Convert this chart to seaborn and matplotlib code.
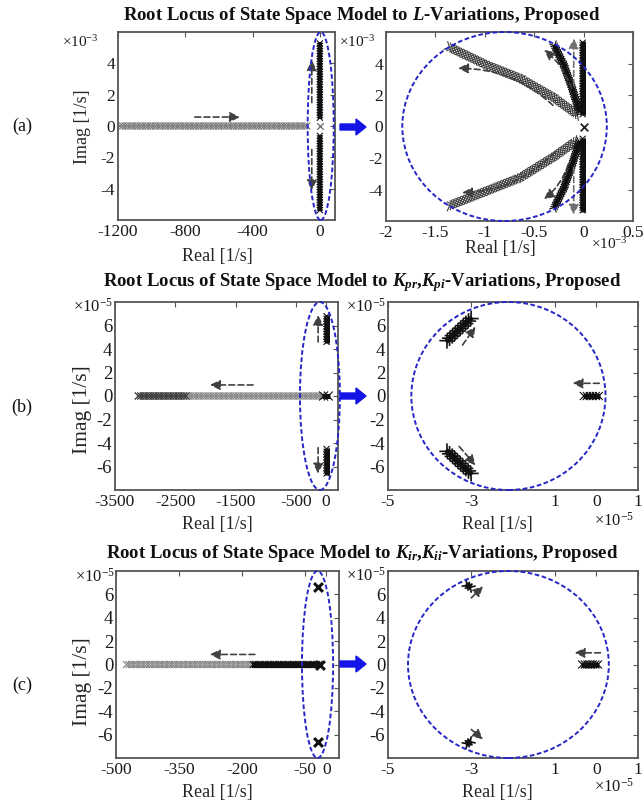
import numpy as np
import pandas as pd
import matplotlib
matplotlib.use("Agg")
import matplotlib.pyplot as plt
import matplotlib.patheffects as pe
from matplotlib.patches import Ellipse, FancyArrow
import seaborn as sns

# ---------------- data ----------------
# (a) left : Real [1/s], Imag [x1e-3 1/s]
a1_band_re = [-1195, -70]
a1_band_im = [0, 0]
a1_bar_re = [0, 0]
a1_bar_up_im = [0.45, 5.35]
a1_bar_dn_im = [-0.55, -5.45]
a1_pole_re = [0]
a1_pole_im = [0]
a1_arrow_start = [(-743, 0.57), (-48, 1.5), (-48, -1.5)]
a1_arrow_end = [(-475, 0.57), (-48, 4.2), (-48, -4.1)]
a1_ellipse = (5, 0, 155, 12)
a1_xticks = [-1200, -800, -400, 0]
a1_xticklabels = ["-1200", "-800", "-400", "0"]
a_yticks = [-4, -2, 0, 2, 4]

# (a) right : Real [x1e-3 1/s], Imag [x1e-3 1/s]
a2_brA_up_re = [-0.05, -0.31, -0.64, -0.98, -1.37]
a2_brA_up_im = [0.70, 1.87, 3.05, 3.90, 5.07]
a2_brA_dn_re = [-0.07, -0.31, -0.64, -0.98, -1.37]
a2_brA_dn_im = [-0.90, -1.96, -3.24, -4.09, -5.05]
a2_brB_re = [-0.04, -0.12, -0.20, -0.30]
a2_brB_up_im = [0.9, 2.5, 3.9, 5.2]
a2_brB_dn_im = [-0.9, -2.5, -3.9, -5.2]
a2_bar_re = [-0.01, -0.01]
a2_bar_up_im = [0.7, 5.4]
a2_bar_dn_im = [-0.7, -5.4]
a2_pole_re = [0]
a2_pole_im = [0]
a2_arrow_start = [(-0.31, 1.34), (-0.29, -1.64), (-0.12, 2.41), (-0.155, -2.39), (-0.10, 2.6), (-0.10, -2.6)]
a2_arrow_end = [(-1.27, 3.69), (-1.23, -4.2), (-0.40, 4.86), (-0.40, -4.62), (-0.10, 5.6), (-0.10, -5.6)]
a2_arrow_rad = [0.2, -0.2, 0.15, -0.15, 0.0, 0.0]
a2_ellipse = (-0.8, 0, 2.07, 12)
a2_xticks = [-2, -1.5, -1, -0.5, 0, 0.5]
a2_xticklabels = ["-2", "-1.5", "-1", "-0.5", "0", "0.5"]

# (b) left : Real [1/s], Imag [x1e-5 1/s]
b1_band_re = [-3134, -60]
b1_dark_re = [-3134, -2300]
b1_band_im = [0, 0]
b1_blob_re = [-60, 60]
b1_bar_re = [10, 10]
b1_bar_up_im = [4.5, 6.9]
b1_bar_dn_im = [-4.4, -6.7]
b1_arrow_start = [(-1210, 0.94), (-130, 4.6), (-130, -4.4)]
b1_arrow_end = [(-1924, 0.94), (-130, 6.9), (-130, -6.6)]
b1_ellipse = (-100, 0, 663, 16)
b1_xticks = [-3500, -2500, -1500, -500, 0]
b1_xticklabels = ["-3500", "-2500", "-1500", "-500", "0"]
bc_yticks = [-6, -4, -2, 0, 2, 4, 6]

# (b) right : Real [x1e-5 1/s], Imag [x1e-5 1/s]
b2_up_re = [-3.61, -2.98]
b2_up_im = [4.6, 6.7]
b2_dn_re = [-3.61, -2.98]
b2_dn_im = [-4.6, -6.7]
b2_blob_re = [-0.33, 0.09]
b2_blob_im = [0, 0]
b2_arrow_start = [(-3.21, 4.34), (-3.29, -4.3), (0.07, 1.08)]
b2_arrow_end = [(-2.9, 5.9), (-2.9, -5.9), (-0.57, 1.08)]
b2_ellipse = (-2.11, 0, 4.66, 16)
bc2_xticks = [-5, -3, -1, 0, 1]
bc2_xticklabels = ["-5", "-3", "1", "0", "1"]

# (c) left : Real [1/s], Imag [x1e-5 1/s]
c1_grey_re = [-478, -177]
c1_black_re = [-177, -15]
c1_band_im = [0, 0]
c1_pole_re = [-20, -20, -15]
c1_pole_im = [6.6, -6.6, 0]
c1_arrow_start = [(-170, 0.86)]
c1_arrow_end = [(-277, 0.86)]
c1_ellipse = (-21, 0, 74, 16)
c1_xticks = [-500, -350, -200, -50, 0]
c1_xticklabels = ["-500", "-350", "-200", "-50", "0"]

# (c) right : Real [x1e-5 1/s], Imag [x1e-5 1/s]
c2_up_re = [-3.13, -3.0]
c2_up_im = [6.85, 6.55]
c2_dn_re = [-3.13, -3.0]
c2_dn_im = [-6.85, -6.55]
c2_blob_re = [-0.37, 0.07]
c2_blob_im = [0, 0]
c2_arrow_start = [(-3.0, 5.7), (-3.0, -5.56), (0.1, 1.0)]
c2_arrow_end = [(-2.72, 6.7), (-2.72, -6.4), (-0.52, 1.0)]
c2_ellipse = (-2.11, 0, 4.82, 16)

titles = [
    "Root Locus of State Space Model to $L$-Variations, Proposed",
    "Root Locus of State Space Model to $K_{pr}$,$K_{pi}$-Variations, Proposed",
    "Root Locus of State Space Model to $K_{ir}$,$K_{ii}$-Variations, Proposed",
]
panel_labels = ["(a)", "(b)", "(c)"]

# ---------------- style ----------------
sns.set_theme(style="white")
plt.rcParams["font.family"] = ["Liberation Serif", "DejaVu Serif"]
plt.rcParams["mathtext.fontset"] = "custom"
plt.rcParams["mathtext.rm"] = "Liberation Serif"
plt.rcParams["mathtext.it"] = "Liberation Serif:italic:bold"
plt.rcParams["mathtext.bf"] = "Liberation Serif:bold"
plt.rcParams["axes.unicode_minus"] = False

W, H = 643, 801
fig = plt.figure(figsize=(W / 100, H / 100), dpi=100)
fig.patch.set_facecolor("white")

BLUE = "#2626c8"
ARROW = "#404040"
TICK_FS = 12.5
LAB_FS = 13


def px(x, y):
    return (x / W, 1 - y / H)


def add_ax(x0, y0, x1, y1):
    return fig.add_axes([x0 / W, 1 - y1 / H, (x1 - x0) / W, (y1 - y0) / H])


def style(ax, xlim, ylim, xticks, xlabels, yticks, yfs=TICK_FS):
    ax.set_xlim(xlim)
    ax.set_ylim(ylim)
    ax.set_xticks(xticks)
    ax.set_xticklabels(xlabels)
    ax.set_yticks(yticks)
    ax.set_yticklabels([str(t) for t in yticks])
    ax.tick_params(direction="in", top=True, right=True, length=3.5, width=0.8,
                   color="#555555", labelsize=TICK_FS, labelcolor="#1a1a1a", pad=3)
    ax.tick_params(axis="y", pad=2, labelsize=yfs)
    for s in ax.spines.values():
        s.set_color("#555555")
        s.set_linewidth(1.3)
    ax.set_facecolor("white")


def xhatch(color, half_px, spacing_pt, lw):
    sp_px = spacing_pt * 100 / 72
    L = half_px * 1.414 / sp_px
    return [pe.TickedStroke(spacing=spacing_pt, angle=a, length=L, linewidth=lw,
                            foreground=color) for a in (45, 135, -45, -135)]


def band(ax, xs, ys, color, half_px, solid_px=0.0, spacing_pt=1.8, tick_lw=0.8):
    effects = xhatch(color, half_px, spacing_pt, tick_lw)
    if solid_px > 0:
        effects = [pe.Stroke(linewidth=solid_px * 0.72, foreground=color)] + effects
    sns.lineplot(x=xs, y=ys, ax=ax, sort=False, estimator=None, color=color, lw=1,
                 solid_capstyle="butt", path_effects=effects)


def arrows(ax, starts, ends, rads=None, color=ARROW):
    if rads is None:
        rads = [0.0] * len(starts)
    for p0, p1, r in zip(starts, ends, rads):
        ax.annotate("", xy=p1, xytext=p0,
                    arrowprops=dict(arrowstyle="-|>,head_length=0.6,head_width=0.3",
                                    linestyle=(0, (3.5, 2)), lw=1.2, color=color,
                                    shrinkA=0, shrinkB=0, mutation_scale=10,
                                    connectionstyle=f"arc3,rad={r}"))


def ellipse(ax, e):
    ax.add_patch(Ellipse((e[0], e[1]), e[2], e[3], fill=False, edgecolor=BLUE,
                         linestyle=(0, (2.4, 1.3)), lw=1.4, clip_on=False, zorder=5))


def labels(ax, xl_xy, yl_xy=None, yfs=LAB_FS):
    ax.set_xlabel("Real [1/s]", fontsize=LAB_FS)
    ax.xaxis.set_label_coords(*px(*xl_xy), transform=fig.transFigure)
    ax.xaxis.label.set_va("center")
    if yl_xy is not None:
        ax.set_ylabel("Imag [1/s]", fontsize=yfs)
        ax.yaxis.set_label_coords(*px(*yl_xy), transform=fig.transFigure)
        ax.yaxis.label.set_va("center")
    else:
        ax.set_ylabel("")


def offset_text(x, y, exp, fs=11):
    fig.text(*px(x, y), "×10$^{" + exp + "}$", ha="right", va="center",
             fontsize=fs, color="#1a1a1a")


def blue_arrow(x0, x1, y):
    fig.add_artist(FancyArrow(x0 / W, 1 - y / H, (x1 - x0) / W, 0, width=6 / H,
                              head_width=16 / H, head_length=10 / W,
                              length_includes_head=True, color="#1414e6",
                              transform=fig.transFigure))


BC_YFS = 13.5
BC_YLAB = 15.5

# ---------------- panel (a) ----------------
ax = add_ax(118, 32, 335, 220)
style(ax, (-1200, 90), (-6, 6), a1_xticks, a1_xticklabels, a_yticks)
band(ax, a1_band_re, a1_band_im, "#7a7a7a", 3.5)
band(ax, a1_bar_re, a1_bar_up_im, "#101010", 3.0, solid_px=4)
band(ax, a1_bar_re, a1_bar_dn_im, "#101010", 3.0, solid_px=4)
sns.scatterplot(x=a1_pole_re, y=a1_pole_im, ax=ax, marker="x", color="#777777", s=22, linewidth=1.0)
arrows(ax, a1_arrow_start, a1_arrow_end)
ellipse(ax, a1_ellipse)
labels(ax, (217, 257), (82, 127))
offset_text(99, 42, "-3")

ax = add_ax(386, 32, 633, 221)
style(ax, (-2, 0.5), (-6, 6), a2_xticks, a2_xticklabels, a_yticks)
band(ax, a2_brA_up_re, a2_brA_up_im, "#3a3a3a", 4.5, spacing_pt=2.2)
band(ax, a2_brA_dn_re, a2_brA_dn_im, "#3a3a3a", 4.5, spacing_pt=2.2)
band(ax, a2_brB_re, a2_brB_up_im, "#101010", 4.0, solid_px=4)
band(ax, a2_brB_re, a2_brB_dn_im, "#101010", 4.0, solid_px=4)
band(ax, a2_bar_re, a2_bar_up_im, "#101010", 3.0, solid_px=5)
band(ax, a2_bar_re, a2_bar_dn_im, "#101010", 3.0, solid_px=5)
sns.scatterplot(x=a2_pole_re, y=a2_pole_im, ax=ax, marker="x", color="#222222", s=30, linewidth=1.3)
arrows(ax, a2_arrow_start[:4], a2_arrow_end[:4], a2_arrow_rad[:4])
arrows(ax, a2_arrow_start[4:], a2_arrow_end[4:], a2_arrow_rad[4:], color="#707070")
ellipse(ax, a2_ellipse)
labels(ax, (500, 249))
offset_text(376, 42, "-3")
offset_text(628, 244, "-3")

# ---------------- panel (b) ----------------
ax = add_ax(115, 302, 338, 490)
style(ax, (-3500, 200), (-8, 8), b1_xticks, b1_xticklabels, bc_yticks, yfs=BC_YFS)
band(ax, b1_band_re, b1_band_im, "#858585", 3.5)
band(ax, b1_dark_re, b1_band_im, "#3c3c3c", 3.5)
band(ax, b1_blob_re, b1_band_im, "#101010", 4.5, solid_px=5)
band(ax, b1_bar_re, b1_bar_up_im, "#101010", 3.0, solid_px=5)
band(ax, b1_bar_re, b1_bar_dn_im, "#101010", 3.0, solid_px=5)
arrows(ax, b1_arrow_start, b1_arrow_end)
ellipse(ax, b1_ellipse)
labels(ax, (217, 525), (82, 410), yfs=BC_YLAB)
offset_text(113, 307, "-5", fs=12)

ax = add_ax(388, 302, 638, 490)
style(ax, (-5, 1), (-8, 8), bc2_xticks, bc2_xticklabels, bc_yticks, yfs=BC_YFS)
band(ax, b2_up_re, b2_up_im, "#101010", 5.5, solid_px=5, spacing_pt=2.4, tick_lw=1.2)
band(ax, b2_dn_re, b2_dn_im, "#101010", 5.5, solid_px=5, spacing_pt=2.4, tick_lw=1.2)
band(ax, b2_blob_re, b2_blob_im, "#101010", 4.0, solid_px=5)
arrows(ax, b2_arrow_start, b2_arrow_end)
ellipse(ax, b2_ellipse)
labels(ax, (497, 525))
offset_text(386, 307, "-5", fs=12)
offset_text(634, 521, "-5", fs=12)

# ---------------- panel (c) ----------------
ax = add_ax(116, 571, 339, 758)
style(ax, (-500, 30), (-8, 8), c1_xticks, c1_xticklabels, bc_yticks, yfs=BC_YFS)
band(ax, c1_grey_re, c1_band_im, "#858585", 3.5)
band(ax, c1_black_re, c1_band_im, "#101010", 3.5, solid_px=6)
sns.scatterplot(x=c1_pole_re, y=c1_pole_im, ax=ax, marker="x", color="#101010", s=40, linewidth=2.2)
arrows(ax, c1_arrow_start, c1_arrow_end)
ellipse(ax, c1_ellipse)
labels(ax, (217, 793), (82, 682), yfs=BC_YLAB)
offset_text(115, 577, "-5", fs=12)

ax = add_ax(388, 571, 638, 758)
style(ax, (-5, 1), (-8, 8), bc2_xticks, bc2_xticklabels, bc_yticks, yfs=BC_YFS)
band(ax, c2_up_re, c2_up_im, "#101010", 4.0, solid_px=5, spacing_pt=2.0, tick_lw=1.2)
band(ax, c2_dn_re, c2_dn_im, "#101010", 4.0, solid_px=5, spacing_pt=2.0, tick_lw=1.2)
band(ax, c2_blob_re, c2_blob_im, "#101010", 4.0, solid_px=5)
arrows(ax, c2_arrow_start, c2_arrow_end)
ellipse(ax, c2_ellipse)
labels(ax, (497, 792))
offset_text(386, 576, "-5", fs=12)
offset_text(634, 787, "-5", fs=12)

# ---------------- titles, panel labels, blue arrows ----------------
for t, y in zip(titles, [16, 283, 553]):
    fig.text(*px(362, y), t, ha="center", va="center", fontsize=13.5,
             fontweight="bold", color="#111111")
for lab, y in zip(panel_labels, [126, 407, 685]):
    fig.text(*px(22, y), lab, ha="center", va="center", fontsize=LAB_FS, color="#111111")
for y in [127, 396, 664]:
    blue_arrow(340, 366, y)

fig.savefig("out.png", dpi=100, facecolor="white")
